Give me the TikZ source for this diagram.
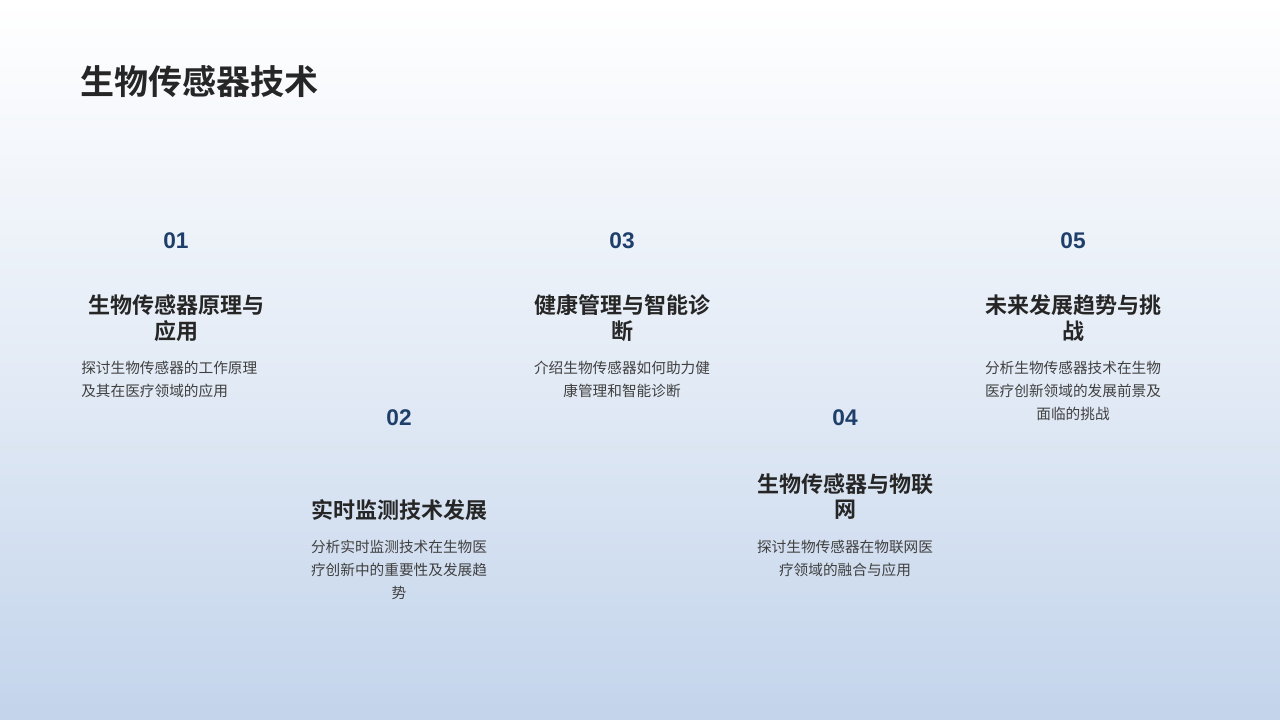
\documentclass[tikz,border=0pt]{standalone}
\usepackage{fontspec}
\newfontfamily\cjk{Noto Sans CJK SC}
\newfontfamily\cjkb{Noto Sans CJK SC Bold}
\setmainfont{Liberation Sans}
\definecolor{numc}{HTML}{1F3F6B}
\definecolor{txt}{HTML}{262626}
\definecolor{body}{HTML}{404040}
\definecolor{bot}{HTML}{C3D4EB}
\begin{document}
\begin{tikzpicture}[x=0.75pt,y=-0.75pt,
  num/.style={font=\bfseries\fontsize{17}{20}\selectfont,text=numc},
  head/.style={font=\cjkb\fontsize{16.5}{19.5}\selectfont,text=txt,inner sep=0},
  bod/.style={font=\cjk\fontsize{11}{13}\selectfont,text=body,inner sep=0}]
\shade[top color=white,bottom color=bot,middle color=white!55!bot] (0,0) rectangle (1280,720);
\useasboundingbox (0,0) rectangle (1280,720);
\node[head,anchor=west,font=\cjkb\fontsize{25.5}{30}\selectfont] (title) at (80,82) {生物传感器技术};
% col1
\node[num] (n1) at (176,241) {01};
\node[head] (h1a) at (176,305) {生物传感器原理与};
\node[head] (h1b) at (176,331) {应用};
\node[bod,anchor=west] (b1a) at (81,368) {探讨生物传感器的工作原理};
\node[bod,anchor=west] (b1b) at (81,391) {及其在医疗领域的应用};
% col2
\node[num] (n2) at (399,418) {02};
\node[head] (h2a) at (399,510) {实时监测技术发展};
\node[bod] (b2a) at (399,547) {分析实时监测技术在生物医};
\node[bod] (b2b) at (399,570) {疗创新中的重要性及发展趋};
\node[bod] (b2c) at (399,593) {势};
% col3
\node[num] (n3) at (622,241) {03};
\node[head] (h3a) at (622,305) {健康管理与智能诊};
\node[head] (h3b) at (622,331) {断};
\node[bod] (b3a) at (622,368) {介绍生物传感器如何助力健};
\node[bod] (b3b) at (622,391) {康管理和智能诊断};
% col4
\node[num] (n4) at (845,418) {04};
\node[head] (h4a) at (845,484) {生物传感器与物联};
\node[head] (h4b) at (845,510) {网};
\node[bod] (b4a) at (845,547) {探讨生物传感器在物联网医};
\node[bod] (b4b) at (845,570) {疗领域的融合与应用};
% col5
\node[num] (n5) at (1073,241) {05};
\node[head] (h5a) at (1073,305) {未来发展趋势与挑};
\node[head] (h5b) at (1073,331) {战};
\node[bod] (b5a) at (1073,368) {分析生物传感器技术在生物};
\node[bod] (b5b) at (1073,391) {医疗创新领域的发展前景及};
\node[bod] (b5c) at (1073,414) {面临的挑战};
\end{tikzpicture}
\end{document}
